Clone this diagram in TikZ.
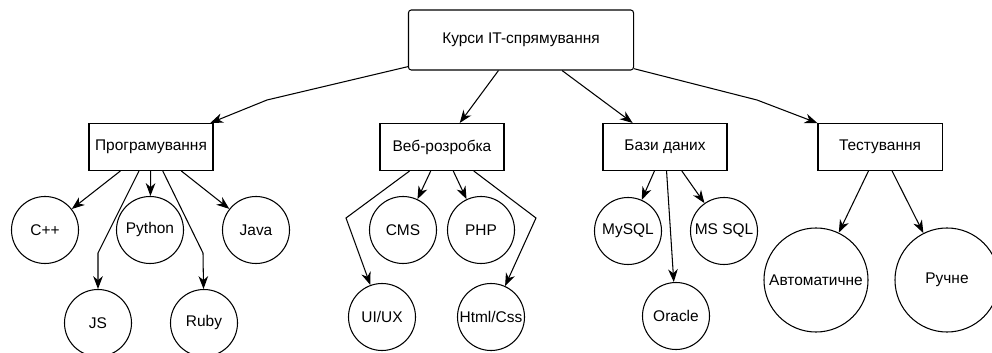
\documentclass[tikz,border=0pt]{standalone}
\usepackage{fontspec}
\setmainfont{Liberation Sans}
\usetikzlibrary{arrows.meta}

\begin{document}
\begin{tikzpicture}[x=0.025cm,y=-0.025cm,
  font=\fontsize{11pt}{13pt}\selectfont, line width=0.75pt,
  box/.style={draw,rectangle,minimum width=3.1cm,minimum height=1.175cm,inner sep=0pt},
  ball/.style={draw,circle,minimum size=1.675cm,inner sep=0pt},
  bigball/.style={ball,minimum size=2.6cm},
  arr/.style={-{Stealth[length=3.2mm,width=2.4mm,inset=1mm]}}]

  \useasboundingbox (0,0) rectangle (992,353);

  \draw (521,40) node[box,rounded corners=2pt,minimum width=5.625cm,minimum height=1.5cm] (root) {Курси IT-спрямування};

  \draw (151,147) node[box] (prog) {Програмування};
\draw (442,147) node[box] (web) {Веб-розробка};
\draw (665,147) node[box] (db) {Бази даних};
\draw (880,147) node[box] (test) {Тестування};

  \draw (45,230) node[ball] (cpp) {C++};
\draw (150,230) node[ball] (py) {Python};
\draw (256,230) node[ball] (java) {Java};
\draw (98,323) node[ball] (js) {JS};
\draw (204,323) node[ball] (ruby) {Ruby};

  \draw (403,230) node[ball] (cms) {CMS};
\draw (481,230) node[ball] (php) {PHP};
\draw (382,317) node[ball] (ux) {UI/UX};
\draw (491,317) node[ball] (html) {\makebox[0pt]{Html/Css}};

  \draw (628,231) node[ball] (my) {MySQL};
\draw (724,231) node[ball] (ms) {MS SQL};
\draw (676,316) node[ball] (ora) {Oracle};

  \draw (816,280) node[bigball] (auto) {Автоматичне};
\draw (947,280) node[bigball] (hand) {Ручне};

  % bends
  \coordinate (k1) at (267,100);
  \coordinate (k2) at (757,100);
  \coordinate (k3) at (98,253);
  \coordinate (k4) at (203,253);
  \coordinate (k5) at (346,218);
  \coordinate (k6) at (536,218);

  \draw[arr] (root) -- (k1) -- (prog);
  \draw[arr] (root) -- (web);
  \draw[arr] (root) -- (db);
  \draw[arr] (root) -- (k2) -- (test);

  \draw[arr] (prog) -- (cpp);
  \draw[arr] (prog) -- (py);
  \draw[arr] (prog) -- (java);
  \draw[arr] (prog) -- (k3) -- (js);
  \draw[arr] (prog) -- (k4) -- (ruby);

  \draw[arr] (web) -- (cms);
  \draw[arr] (web) -- (php);
  \draw[arr] (web) -- (k5) -- (ux);
  \draw[arr] (web) -- (k6) -- (html);

  \draw[arr] (db) -- (my);
  \draw[arr] (db) -- (ms);
  \draw[arr] (db) -- (ora);

  \draw[arr] (test) -- (auto);
  \draw[arr] (test) -- (hand);

\end{tikzpicture}
\end{document}
